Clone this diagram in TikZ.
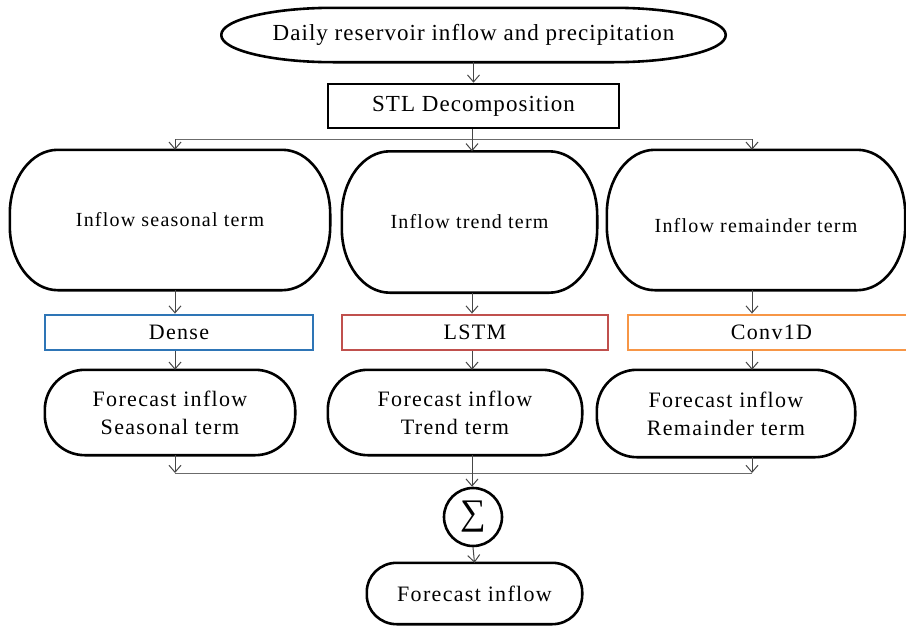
\documentclass[tikz,border=0pt]{standalone}
\usepackage{fontspec}
\setmainfont{Liberation Serif}[LetterSpace=6]
\newfontfamily\sumfont{Liberation Serif}
\usetikzlibrary{arrows.meta,calc}

\definecolor{denseblue}{RGB}{46,117,182}
\definecolor{lstmred}{RGB}{192,80,77}
\definecolor{convorange}{RGB}{247,150,70}
\definecolor{wire}{RGB}{70,70,70}

% capsule outline with elliptical end caps around a node
% #1 node name, #2 cap x radius, #3 cap y radius (pt)
\newcommand{\capsule}[3]{%
  \pgfmathsetmacro{\cx}{#2}%
  \pgfmathsetmacro{\cy}{#3}%
  \pgfmathsetmacro{\kx}{#2*(1-0.5523)}%
  \pgfmathsetmacro{\ky}{#3*(1-0.5523)}%
  \draw[capline]
    ([xshift=\cx pt]#1.north west) -- ([xshift=-\cx pt]#1.north east)
    .. controls ([xshift=-\kx pt]#1.north east) and ([yshift=-\ky pt]#1.north east)
    .. ([yshift=-\cy pt]#1.north east) -- ([yshift=\cy pt]#1.south east)
    .. controls ([yshift=\ky pt]#1.south east) and ([xshift=-\kx pt]#1.south east)
    .. ([xshift=-\cx pt]#1.south east) -- ([xshift=\cx pt]#1.south west)
    .. controls ([xshift=\kx pt]#1.south west) and ([yshift=\ky pt]#1.south west)
    .. ([yshift=\cy pt]#1.south west) -- ([yshift=-\cy pt]#1.north west)
    .. controls ([yshift=-\ky pt]#1.north west) and ([xshift=\kx pt]#1.north west)
    .. cycle;}

\begin{document}
\begin{tikzpicture}[x=1pt,y=-1pt,
  arr/.style={draw=wire, line width=1pt,
    -{Straight Barb[length=7pt,width=12pt,line width=1pt]}},
  bus/.style={draw=wire!80, line width=1pt},
  capline/.style={draw=black, line width=2.6pt},
  stad/.style={inner sep=0pt, align=center},
  modelbox/.style={draw=#1, line width=2.8pt, inner sep=0pt,
    minimum height=35pt, font=\fontsize{22}{26}\selectfont},
  bigtxt/.style={font=\fontsize{20}{24}\selectfont},
  fctxt/.style={font=\fontsize{22}{28}\selectfont},
  toptxt/.style={font=\fontsize{23}{27}\selectfont\addfontfeatures{LetterSpace=4.5}},
]
\useasboundingbox (0,0) rectangle (906,627);

% input and decomposition
\node[stad, minimum width=504pt, minimum height=54pt, toptxt]
  (input) at (473.5,35) {Daily reservoir inflow and precipitation};
\capsule{input}{112}{27}
\node[draw=black, line width=2.6pt, inner sep=0pt,
      minimum width=291pt, minimum height=44pt, toptxt]
  (stl) at (473.5,106) {STL Decomposition};

% decomposed components
\node[stad, bigtxt, minimum width=320pt, minimum height=140pt]
  (seas) at (170,220) {Inflow seasonal term};
\node[stad, bigtxt, minimum width=255pt, minimum height=141pt]
  (trend) at (469.5,222) {Inflow trend term};
\node[stad, bigtxt, minimum width=298pt, minimum height=140pt,
      text height=28pt, text depth=4pt]
  (rem) at (756,220) {Inflow remainder term};
\capsule{seas}{48}{64}
\capsule{trend}{48}{64}
\capsule{rem}{48}{64}

% models
\node[modelbox=denseblue, minimum width=268pt] (dense) at (179,332.5) {Dense};
\node[modelbox=lstmred, minimum width=266pt] (lstm) at (475,332.5) {LSTM};
\node[modelbox=convorange, minimum width=287pt] (conv) at (771.5,332.5) {Conv1D};

% component forecasts
\node[stad, fctxt, minimum width=250pt, minimum height=85pt]
  (fseas) at (170,412.5) {Forecast inflow\\Seasonal term};
\node[stad, fctxt, minimum width=254pt, minimum height=85pt]
  (ftrend) at (455,412.5) {Forecast inflow\\Trend term};
\node[stad, fctxt, minimum width=258pt, minimum height=87pt]
  (frem) at (726,413.5) {Forecast inflow\\Remainder term};
\capsule{fseas}{40}{40}
\capsule{ftrend}{40}{40}
\capsule{frem}{40}{41}

% aggregation and result
\node[circle, draw=black, line width=2.6pt, inner sep=0pt, minimum size=58pt]
  (sum) at (473,517) {\sumfont\fontsize{36}{36}\selectfont ∑};
\node[stad, fctxt, minimum width=215pt, minimum height=61pt]
  (out) at (474.5,593.5) {Forecast inflow};
\capsule{out}{30}{29}

% distribution bus below the decomposition
\coordinate (ta) at (175,139);
\coordinate (tb) at (472,139);
\coordinate (tc) at (752,139);
\draw[arr] (input.south) -- (stl.north);
\draw[bus] (ta) -- (tc);
\draw[arr] (stl.south -| tb) -- (tb |- trend.north);
\draw[arr] (ta) -- (ta |- seas.north);
\draw[arr] (tc) -- (tc |- rem.north);

% components to models
\draw[arr] (ta |- seas.south) -- (ta |- dense.north);
\draw[arr] (tb |- trend.south) -- (tb |- lstm.north);
\draw[arr] (tc |- rem.south) -- (tc |- conv.north);

% models to forecasts
\draw[arr] (ta |- dense.south) -- (ta |- fseas.north);
\draw[arr] (tb |- lstm.south) -- (tb |- ftrend.north);
\draw[arr] (tc |- conv.south) -- (tc |- frem.north);

% collecting bus into the sum
\coordinate (ba) at (175,473);
\coordinate (bc) at (752,473);
\draw[bus] (ba) -- (bc);
\draw[arr] (ta |- fseas.south) -- (ba);
\draw[arr] (tc |- frem.south) -- (bc);
\draw[arr] (tb |- ftrend.south) -- (tb |- sum.north);
\draw[arr] (sum.south) -- (out.north);
\end{tikzpicture}
\end{document}
